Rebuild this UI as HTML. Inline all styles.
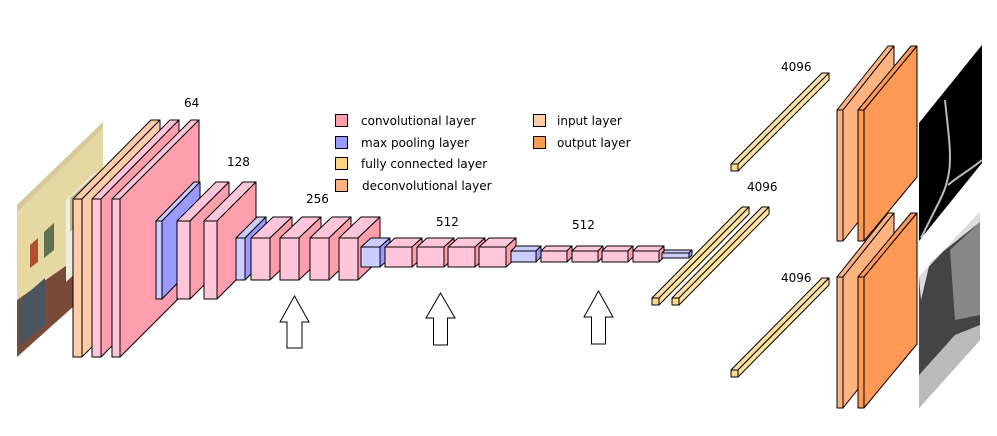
<!DOCTYPE html>
<html><head><meta charset="utf-8"><style>
html,body{margin:0;padding:0;background:#fff;width:997px;height:436px;overflow:hidden}
svg{display:block}
text{font-family:"DejaVu Sans","Liberation Sans",sans-serif;font-size:12px;fill:#000}
</style></head><body>
<svg id="s" width="997" height="436" viewBox="0 0 997 436" xmlns="http://www.w3.org/2000/svg">
<g id="img">
<polygon points="17,205 103,122 103,280 17,357" fill="#e6d8a2"/>
<polygon points="17,300 103,240 103,280 17,357" fill="#7a4a38"/>
<polygon points="20,300 45,278 45,325 20,345" fill="#4a5560"/>
<polygon points="30,245 38,238 38,262 30,268" fill="#b05030"/>
<polygon points="44,232 54,223 54,250 44,258" fill="#607050"/>
<polygon points="66,200 95,172 95,255 66,282" fill="#f0ece0"/>
<polygon points="70,198 95,175 95,210 70,232" fill="#c8b890"/>
<polygon points="17,205 103,122 103,128 17,212" fill="#d8c898"/>
</g>
<g id="g"></g>
<g id="imgs">
<polygon points="919,123 982,45 982,163 919,241" fill="#000"/>
<path d="M945,100 C950,150 955,170 940,200 C930,220 925,230 921,238 M948,185 C960,175 970,170 982,160" stroke="#bbb" stroke-width="2" fill="none"/>
<polygon points="919,277 980,212 980,340 919,408" fill="#444"/>
<polygon points="919,277 980,212 980,222 930,262 921,300" fill="#ddd"/>
<polygon points="950,250 980,222 980,315 955,320" fill="#888"/>
<polygon points="919,375 955,335 980,325 980,340 919,408" fill="#bbb"/>
</g>
<g fill="#fff" stroke="#000" stroke-width="1">
<polygon points="294.5,296 309,322 302,322 302,348 287,348 287,322 280,322"/>
<polygon points="440.5,293 455,318 447.5,318 447.5,345 433.5,345 433.5,318 426,318"/>
<polygon points="598.5,291 613,317 605.5,317 605.5,344 591.5,344 591.5,317 584,317"/>
</g>
<g stroke="#000" stroke-width="1">
<rect x="335.5" y="114.5" width="12" height="12" fill="#ff9fae"/>
<rect x="335.5" y="136.5" width="12" height="12" fill="#9999ff"/>
<rect x="335.5" y="157.5" width="12" height="12" fill="#ffd47f"/>
<rect x="335.5" y="179.5" width="12" height="12" fill="#ffb380"/>
<rect x="533.5" y="114.5" width="12" height="12" fill="#ffccaa"/>
<rect x="533.5" y="136.5" width="12" height="12" fill="#ff9955"/>
</g>
<text x="361" y="125">convolutional layer</text>
<text x="361" y="147">max pooling layer</text>
<text x="361" y="168">fully connected layer</text>
<text x="362" y="190">deconvolutional layer</text>
<text x="557" y="125">input layer</text>
<text x="557" y="147">output layer</text>
<text x="184" y="107">64</text>
<text x="227" y="166">128</text>
<text x="306" y="203">256</text>
<text x="436" y="226">512</text>
<text x="572" y="229">512</text>
<text x="781" y="71">4096</text>
<text x="747" y="191">4096</text>
<text x="781" y="282">4096</text>
</svg>
<script>
var g=document.getElementById('g'),NS='http://www.w3.org/2000/svg';
function poly(p,f){var e=document.createElementNS(NS,'polygon');e.setAttribute('points',p.map(function(a){return a.join(',')}).join(' '));e.setAttribute('fill',f);e.setAttribute('stroke','#000');e.setAttribute('stroke-width','1');e.setAttribute('stroke-linejoin','round');g.appendChild(e);}
function box(x,y,w,h,dx,dy,front,side,top){
poly([[x,y],[x+dx,y-dy],[x+w+dx,y-dy],[x+w,y]],top||front);
poly([[x+w,y],[x+w+dx,y-dy],[x+w+dx,y+h-dy],[x+w,y+h]],side);
poly([[x,y],[x+w,y],[x+w,y+h],[x,y+h]],front);}
var CF='#ffc6d9',CS='#ff9fae',PF='#ccccff',PS='#9999ff';
box(73,199,9,158,78,79,'#ffccaa','#ffccaa','#ffccaa');
box(92,199,9,158,78,79,CF,CS);
box(112,199,8,158,79,79,CF,CS);
box(156,221,6,78,38,39,PF,PS);
box(177,221,13,78,39,39,CF,CS);
box(204,221,13,78,39,39,CF,CS);
box(236,238,9,42,21,21,PF,PS);
[251,280,310,339].forEach(function(x){box(x,238,19,42,22,21,CF,CS);});
box(361,247,19,20,10,9,PF,PS);
[385,417,448,479].forEach(function(x){box(x,247,27,20,10,9,CF,CS);});
box(511,251,25,11,5,5,PF,PS);
[541,572,602,633].forEach(function(x){box(x,251,26,11,5,5,CF,CS);});
box(662,253,27,5,3,3,PF,PS);
var FF='#ffd98a',FS='#ffe4a0';
box(731,164,7,7,91,91,FF,FS,'#ffe0a0');
box(652,298,7,7,90,91,FF,FS,'#ffe0a0');
box(672,298,7,7,90,91,FF,FS,'#ffe0a0');
box(731,370,7,7,91,92,FF,FS,'#ffe0a0');
[[110],[277]].forEach(function(r){var y=r[0];
box(837,y,6,131,51,64,'#ffb380','#ffb380','#ffb380');
box(858,y,6,131,53,64,'#ff9955','#ff9955','#ff9955');});
</script>
</body></html>
